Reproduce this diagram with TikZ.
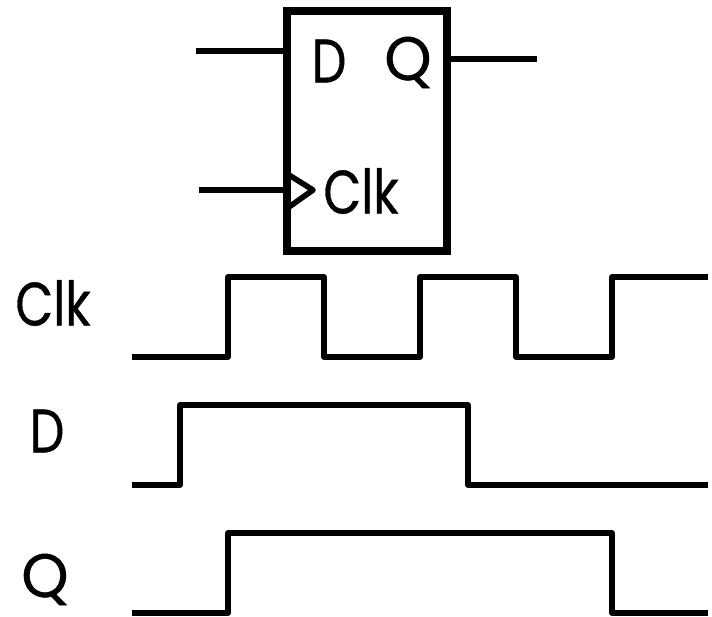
\documentclass[tikz,border=0pt]{standalone}
\usepackage{fontspec}
\setmainfont[FakeBold=0.6]{Poppins}
\tikzset{
  wire/.style={line width=4.2pt,line join=round},
  signame/.style={font=\fontsize{46}{46}\selectfont,inner sep=0pt,xscale=.8,transform shape},
  qname/.style={font=\fontsize{46}{46}\selectfont,inner sep=0pt,text height=30pt,text depth=6pt,xscale=.98,transform shape},
}
\begin{document}
\begin{tikzpicture}[x=0.75pt,y=-0.75pt]
\useasboundingbox (0,0) rectangle (712,616);

% flip flop
\node[draw,line width=6pt,minimum width=120pt,minimum height=180pt,inner sep=0pt] (ff) at (367,131) {};
\node[signame] (pinD) at (329,61) {D};
\node[qname] (pinQ) at (408,64) {Q};
\node[signame] (pinClk) at (361,191) {Clk};
\coordinate (dIn) at (196,51);
\coordinate (dEnd) at (ff.west |- dIn);
\coordinate (qOut) at (537,59);
\coordinate (qEnd) at (ff.east |- qOut);
\coordinate (clkIn) at (199,190);
\coordinate (clkEnd) at (ff.west |- clkIn);
\coordinate (triTop) at (289,175);
\coordinate (triTip) at (313,190);
\coordinate (triBot) at (289,207);
\draw[wire] (dIn) -- (dEnd);
\draw[wire] (qEnd) -- (qOut);
\draw[wire] (clkIn) -- (clkEnd);
\draw[wire] (triTop) -- (triTip) -- (triBot);

% waveforms
\node[signame] (lblClk) at (53,303) {Clk};
\node[signame] (lblD) at (47,431) {D};
\node[qname] (lblQ) at (45,581) {Q};

\draw[wire] (132,357) -- (228,357) -- (228,277) -- (324,277) -- (324,357) -- (420,357) -- (420,277) -- (516,277) -- (516,357) -- (612,357) -- (612,277) -- (708,277);
\draw[wire] (132,485) -- (180,485) -- (180,405) -- (468,405) -- (468,485) -- (708,485);
\draw[wire] (132,613) -- (228,613) -- (228,533) -- (612,533) -- (612,613) -- (708,613);
\end{tikzpicture}
\end{document}
